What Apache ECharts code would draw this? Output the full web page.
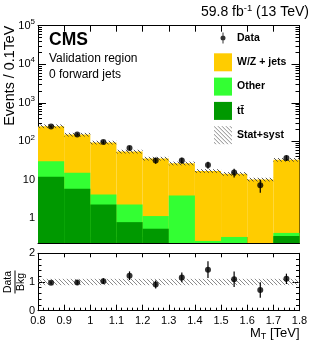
<!DOCTYPE html>
<html><head><meta charset="utf-8">
<script src="https://cdn.jsdelivr.net/npm/echarts@6/dist/echarts.min.js"></script>
<style>html,body{margin:0;padding:0;background:#fff}#c{width:316px;height:356px}</style>
</head><body><div id="c"></div>
<script>
// ---------------- data ----------------
const binEdges = [0.8, 0.9, 1.0, 1.1, 1.2, 1.3, 1.4, 1.5, 1.6, 1.7, 1.8];
const xTickLabels = ['0.8', '0.9', '1', '1.1', '1.2', '1.3', '1.4', '1.5', '1.6', '1.7', '1.8'];
const yDecades = [0, 1, 2, 3, 4, 5];
const ratioTickLabels = ['0', '1', '2'];
const ttbar  = [12.0, 5.9, 2.3, 0.80, 0.54, 0, 0, 0, 0, 0.35];
const other  = [18.3, 9.3, 1.9, 1.5, 0.61, 3.9, 0.26, 0.33, 0, 0.07];
const wzJets = [217, 134, 89, 52, 34.5, 22.9, 16.8, 14.0, 10.2, 32.8];
const dataCounts = [244, 151, 96, 67, 32, 31.6, 24.4, 15.5, 7.3, 37];
const dataErr    = [16, 12, 10, 8.2, 5.7, 5.6, 4.9, 3.9, 2.7, 6.1];
const ratio      = [0.97, 0.98, 1.03, 1.22, 0.91, 1.16, 1.43, 1.10, 0.72, 1.11];
const ratioErr   = [0.06, 0.08, 0.10, 0.15, 0.14, 0.17, 0.29, 0.27, 0.27, 0.18];
const bkgRelUnc  = [0.11, 0.11, 0.11, 0.11, 0.11, 0.11, 0.11, 0.11, 0.11, 0.11];

// ---------------- helpers ----------------
const FONT = '"Liberation Sans", Arial, Helvetica, sans-serif';
const YMIN = 0.23, YMAX = 1e5;
const LMIN = Math.log10(YMIN), LMAX = 5;
const centers = binEdges.slice(0, -1).map((e, i) => (e + binEdges[i + 1]) / 2);
const cumTT = ttbar.slice();
const cumOther = ttbar.map((v, i) => v + other[i]);
const cumTotal = cumOther.map((v, i) => v + wzJets[i]);
const histData = arr => arr.map((v, i) => [binEdges[i], binEdges[i + 1], v]);

function hatch(color, lw) {
  const c = document.createElement('canvas'); c.width = 4; c.height = 4;
  const g = c.getContext('2d'); g.strokeStyle = color; g.lineWidth = lw;
  g.beginPath();
  g.moveTo(-1, -1); g.lineTo(5, 5);
  g.moveTo(-1, 3); g.lineTo(1, 5);
  g.moveTo(3, -1); g.lineTo(5, 1);
  g.stroke();
  return c;
}
const hatchTop = { image: hatch('rgba(60,60,60,0.85)', 1), repeat: 'repeat' };
const hatchRatio = { image: hatch('rgba(110,110,110,0.8)', 1), repeat: 'repeat' };

function histRender(color) {
  return function (params, api) {
    const x0 = api.value(0), x1 = api.value(1), top = api.value(2);
    if (!(top > YMIN)) return null;
    const a = api.coord([x0, Math.min(top, YMAX)]);
    const b = api.coord([x1, YMIN]);
    return { type: 'rect', shape: { x: a[0], y: a[1], width: b[0] - a[0], height: b[1] - a[1] }, style: { fill: color } };
  };
}
function bandRender(fill, floor) {
  return function (params, api) {
    const x0 = api.value(0), x1 = api.value(1), lo = api.value(2), hi = api.value(3);
    if (!(hi > floor)) return null;
    const a = api.coord([x0, hi]);
    const b = api.coord([x1, Math.max(lo, floor)]);
    return { type: 'rect', shape: { x: a[0], y: a[1], width: b[0] - a[0], height: b[1] - a[1] }, style: { fill: fill } };
  };
}
function errRender(floor) {
  return function (params, api) {
    const x = api.value(0), v = api.value(1), e = api.value(2);
    const a = api.coord([x, v + e]);
    const b = api.coord([x, Math.max(v - e, floor)]);
    return { type: 'line', shape: { x1: a[0], y1: a[1], x2: b[0], y2: b[1] }, style: { stroke: '#000', lineWidth: 1.2 } };
  };
}

const minorLog = [];
for (let k = -1; k < 5; k++) for (let m = 2; m < 10; m++) {
  const v = Math.log10(m * Math.pow(10, k));
  if (v >= LMIN && v <= LMAX) minorLog.push(v);
}

const GL = 38, GW = 261.5;
const axLine = { show: true, onZero: false, lineStyle: { color: '#000', width: 1 } };
const noSplit = { show: false };
const lblBase = { color: '#000', fontFamily: FONT, fontSize: 11 };

const DATA_ICON = 'path://M0,0h0.01v0.01h-0.01z M17.99,17.99h0.01v0.01h-0.01z M8.5,3.5h1v11h-1z M11.5,9a2.5,2.5 0 1 1 -5,0a2.5,2.5 0 1 1 5,0z';
const TT = 't' + 't\u0304';

const option = {
  animation: false,
  backgroundColor: '#fff',
  grid: [
    { left: GL, top: 25.7, width: GW, height: 217.3, containLabel: false, outerBoundsMode: 'none' },
    { left: GL, top: 253.3, width: GW, height: 57.4, containLabel: false, outerBoundsMode: 'none' }
  ],
  xAxis: [
    { type: 'value', gridIndex: 0, position: 'bottom', min: 0.8, max: 1.8, interval: 0.1,
      axisLine: axLine, axisTick: { show: true, inside: true, length: 6, lineStyle: { color: '#000' } },
      axisLabel: { show: false }, splitLine: noSplit },
    { type: 'value', gridIndex: 0, position: 'top', min: 0.8, max: 1.8, interval: 0.1,
      axisLine: axLine, axisTick: { show: true, inside: true, length: 6, lineStyle: { color: '#000' } },
      axisLabel: { show: false }, splitLine: noSplit },
    { type: 'value', gridIndex: 1, position: 'bottom', min: 0.8, max: 1.8, interval: 0.1,
      axisLine: axLine, axisTick: { show: true, inside: true, length: 6, lineStyle: { color: '#000' } },
      minorTick: { show: true, splitNumber: 5, length: 3, lineStyle: { color: '#000' } },
      axisLabel: Object.assign({ show: true, margin: 5, formatter: v => xTickLabels[Math.round((v - 0.8) * 10)] }, lblBase),
      splitLine: noSplit, minorSplitLine: noSplit },
    { type: 'value', gridIndex: 1, position: 'top', min: 0.8, max: 1.8, interval: 0.1,
      axisLine: axLine, axisTick: { show: true, inside: true, length: 4, lineStyle: { color: '#000' } },
      axisLabel: { show: false }, splitLine: noSplit }
  ],
  yAxis: [
    { type: 'log', logBase: 10, gridIndex: 0, min: YMIN, max: YMAX, show: false, splitLine: noSplit },
    { type: 'value', gridIndex: 0, position: 'left', min: LMIN, max: LMAX,
      axisLine: axLine,
      axisTick: { show: true, inside: true, length: 8, customValues: yDecades, lineStyle: { color: '#000' } },
      axisLabel: Object.assign({ show: true, margin: 3, customValues: yDecades,
        formatter: v => { const k = Math.round(v); if (k === 0) return '{b|1}'; if (k === 1) return '{b|10}'; return '{b|10}{s|' + k + '}'; },
        rich: { b: { fontSize: 11, fontFamily: FONT, color: '#000', lineHeight: 16 },
                s: { fontSize: 8, fontFamily: FONT, color: '#000', lineHeight: 6, verticalAlign: 'top' } } }, lblBase),
      splitLine: noSplit },
    { type: 'value', gridIndex: 0, position: 'left', min: LMIN, max: LMAX,
      axisLine: { show: false, onZero: false },
      axisTick: { show: true, inside: true, length: 4, customValues: minorLog, lineStyle: { color: '#000' } },
      axisLabel: { show: false }, splitLine: noSplit },
    { type: 'value', gridIndex: 0, position: 'right', min: LMIN, max: LMAX,
      axisLine: axLine,
      axisTick: { show: true, inside: true, length: 8, customValues: yDecades, lineStyle: { color: '#000' } },
      axisLabel: { show: false }, splitLine: noSplit },
    { type: 'value', gridIndex: 0, position: 'right', min: LMIN, max: LMAX,
      axisLine: { show: false, onZero: false },
      axisTick: { show: true, inside: true, length: 4, customValues: minorLog, lineStyle: { color: '#000' } },
      axisLabel: { show: false }, splitLine: noSplit },
    { type: 'value', gridIndex: 1, position: 'left', min: 0, max: 2, interval: 1,
      axisLine: axLine,
      axisTick: { show: true, inside: true, length: 7, lineStyle: { color: '#000' } },
      minorTick: { show: true, splitNumber: 5, length: 3.5, lineStyle: { color: '#000' } },
      axisLabel: Object.assign({ show: true, margin: 3, formatter: v => ratioTickLabels[Math.round(v)] }, lblBase),
      splitLine: noSplit, minorSplitLine: noSplit },
    { type: 'value', gridIndex: 1, position: 'right', min: 0, max: 2, interval: 1,
      axisLine: axLine,
      axisTick: { show: true, inside: true, length: 7, lineStyle: { color: '#000' } },
      minorTick: { show: true, splitNumber: 5, length: 3.5, lineStyle: { color: '#000' } },
      axisLabel: { show: false }, splitLine: noSplit, minorSplitLine: noSplit }
  ],
  legend: {
    orient: 'vertical', left: 214, top: 29, padding: 0, itemWidth: 18, itemHeight: 18, itemGap: 6.3,
    selectedMode: false,
    textStyle: { fontFamily: FONT, fontWeight: 'bold', fontSize: 10.5, color: '#000' },
    data: [
      { name: 'Data', icon: DATA_ICON },
      { name: 'W/Z + jets', icon: 'rect' },
      { name: 'Other', icon: 'rect' },
      { name: TT, icon: 'rect' },
      { name: 'Stat+syst', icon: 'rect' }
    ]
  },
  series: [
    { type: 'custom', name: 'W/Z + jets', xAxisIndex: 0, yAxisIndex: 0, z: 1,
      itemStyle: { color: '#FFCC00' }, encode: { x: [0, 1], y: 2 },
      renderItem: histRender('#FFCC00'), data: histData(cumTotal) },
    { type: 'custom', name: 'Other', xAxisIndex: 0, yAxisIndex: 0, z: 2,
      itemStyle: { color: '#33FF33' }, encode: { x: [0, 1], y: 2 },
      renderItem: histRender('#33FF33'), data: histData(cumOther) },
    { type: 'custom', name: TT, xAxisIndex: 0, yAxisIndex: 0, z: 3,
      itemStyle: { color: '#009900' }, encode: { x: [0, 1], y: 2 },
      renderItem: histRender('#009900'), data: histData(cumTT) },
    { type: 'custom', name: 'Stat+syst', xAxisIndex: 0, yAxisIndex: 0, z: 4,
      itemStyle: { color: hatchRatio }, encode: { x: [0, 1], y: [2, 3] },
      renderItem: bandRender(hatchTop, YMIN),
      data: cumTotal.map((t, i) => [binEdges[i], binEdges[i + 1], t * (1 - bkgRelUnc[i]), t * (1 + bkgRelUnc[i])]) },
    { type: 'custom', name: 'Data errors', xAxisIndex: 0, yAxisIndex: 0, z: 5,
      encode: { x: 0, y: 1 }, renderItem: errRender(YMIN),
      data: dataCounts.map((v, i) => [centers[i], v, dataErr[i]]) },
    { type: 'scatter', name: 'Data', xAxisIndex: 0, yAxisIndex: 0, z: 6,
      symbol: 'circle', symbolSize: 6, itemStyle: { color: '#000' },
      data: dataCounts.map((v, i) => [centers[i], v]) },
    { type: 'custom', name: 'Ratio band', xAxisIndex: 2, yAxisIndex: 5, z: 1,
      encode: { x: [0, 1], y: [2, 3] }, renderItem: bandRender(hatchRatio, 0),
      data: bkgRelUnc.map((u, i) => [binEdges[i], binEdges[i + 1], 1 - u, 1 + u]) },
    { type: 'custom', name: 'Ratio errors', xAxisIndex: 2, yAxisIndex: 5, z: 5,
      encode: { x: 0, y: 1 }, renderItem: errRender(0),
      data: ratio.map((r, i) => [centers[i], r, ratioErr[i]]) },
    { type: 'scatter', name: 'Ratio', xAxisIndex: 2, yAxisIndex: 5, z: 6,
      symbol: 'circle', symbolSize: 6, itemStyle: { color: '#000' },
      data: ratio.map((r, i) => [centers[i], r]) }
  ],
  graphic: [
    { type: 'text', x: 49, y: 40, style: { text: 'CMS', font: 'bold 17.5px ' + FONT, fill: '#000', verticalAlign: 'middle' } },
    { type: 'text', x: 49, y: 59, style: { text: 'Validation region', font: '12px ' + FONT, fill: '#000', verticalAlign: 'middle' } },
    { type: 'text', x: 49, y: 75, style: { text: '0 forward jets', font: '12px ' + FONT, fill: '#000', verticalAlign: 'middle' } },
    { type: 'text', x: 309, y: 12, style: { text: '{a|59.8 fb}{s|-1}{a| (13 TeV)}', align: 'right', verticalAlign: 'middle',
      rich: { a: { fontSize: 14, fontFamily: FONT, color: '#000', lineHeight: 18 },
              s: { fontSize: 9.5, fontFamily: FONT, color: '#000', lineHeight: 8, verticalAlign: 'top' } } } },
    { type: 'text', x: 10, y: 25.7, rotation: Math.PI / 2,
      style: { text: 'Events / 0.1TeV', font: '14.3px ' + FONT, fill: '#000', align: 'right', verticalAlign: 'middle' } },
    { type: 'text', x: 299.5, y: 333, style: { text: '{a|M}{s|T}{a| [TeV]}', align: 'right', verticalAlign: 'middle',
      rich: { a: { fontSize: 13, fontFamily: FONT, color: '#000', lineHeight: 16 },
              s: { fontSize: 9, fontFamily: FONT, color: '#000', lineHeight: 9, verticalAlign: 'bottom' } } } },
    { type: 'text', x: 15, y: 282, rotation: Math.PI / 2,
      style: { text: '{n|Data}\n{l| }\n{n|Bkg}', align: 'center', verticalAlign: 'middle',
      rich: { n: { fontSize: 10.5, fontFamily: FONT, color: '#000', lineHeight: 11, align: 'center' },
              l: { fontSize: 1, lineHeight: 2, height: 1, width: 23, backgroundColor: '#000', align: 'center' } } } }
  ]
};

const chart = echarts.init(document.getElementById('c'), null, { renderer: 'canvas', width: 316, height: 356 });
chart.setOption(option);
</script>
</body></html>
